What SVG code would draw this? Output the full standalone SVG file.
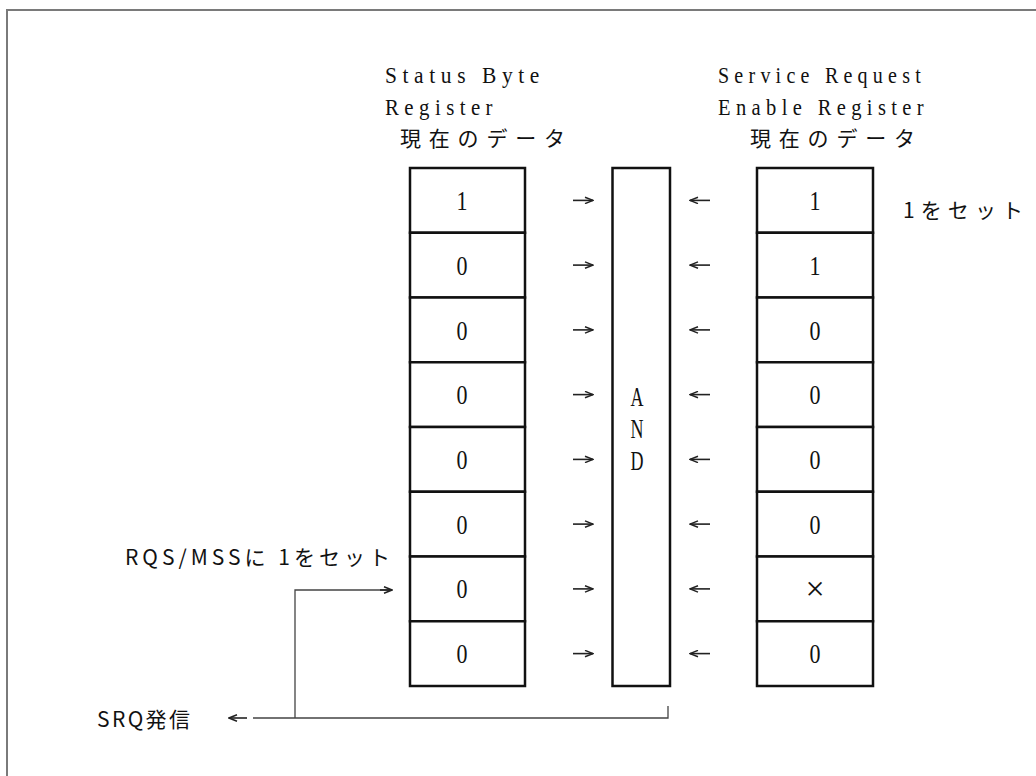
<svg xmlns="http://www.w3.org/2000/svg" width="1036" height="776" viewBox="0 0 1036 776">
<style>
.frame{fill:none;stroke:#7a7a7a;stroke-width:2}
.cell{fill:#fff;stroke:#111;stroke-width:2.5}
.lbl{font-family:"Liberation Serif","Noto Sans CJK JP",serif;font-size:23px;letter-spacing:6px;fill:#111}
.jp{font-family:"Noto Sans CJK JP","Liberation Serif",sans-serif;font-size:21px;fill:#111}
.dig{font-family:"Liberation Serif","Noto Sans CJK JP",serif;font-size:27px;fill:#111;text-anchor:middle}
.x{font-family:"Liberation Serif",serif;font-size:34px;fill:#111;text-anchor:middle}
.and{font-family:"Liberation Serif",serif;font-size:28px;fill:#111;text-anchor:middle}
.ar{stroke:#222;stroke-width:1.6;fill:none}
.wire{stroke:#444;stroke-width:1.3;fill:none}
</style>
<defs>
<marker id="ah" markerUnits="userSpaceOnUse" markerWidth="10" markerHeight="8" refX="9" refY="4" orient="auto">
<path d="M1,0.8 L9,4 L1,7.2" fill="none" stroke="#222" stroke-width="1.5"/>
</marker>
</defs>
<path class="frame" d="M7,776 L7,10 L1036,10"/>

<g id="labels">
<text class="lbl" x="385" y="83" textLength="160" lengthAdjust="spacingAndGlyphs">Status Byte</text>
<text class="lbl" x="385" y="115" textLength="113" lengthAdjust="spacingAndGlyphs">Register</text>
<text class="jp" x="400" y="146" textLength="165" lengthAdjust="spacing">現在のデータ</text>
<text class="lbl" x="718" y="83" textLength="208" lengthAdjust="spacingAndGlyphs">Service Request</text>
<text class="lbl" x="718" y="115" textLength="211" lengthAdjust="spacingAndGlyphs">Enable Register</text>
<text class="jp" x="750" y="146" textLength="165" lengthAdjust="spacing">現在のデータ</text>
<text class="jp" x="903" y="218" textLength="120" lengthAdjust="spacing">1をセット</text>
<text class="jp" x="125" y="565" textLength="265" lengthAdjust="spacing">RQS/MSSに 1をセット</text>
<text class="jp" x="97" y="727" textLength="93" lengthAdjust="spacing">SRQ発信</text>
</g>

<g id="status-byte-register">
<rect class="cell" x="410" y="168" width="115" height="64.75"/>
<rect class="cell" x="410" y="232.75" width="115" height="64.75"/>
<rect class="cell" x="410" y="297.5" width="115" height="64.75"/>
<rect class="cell" x="410" y="362.25" width="115" height="64.75"/>
<rect class="cell" x="410" y="427" width="115" height="64.75"/>
<rect class="cell" x="410" y="491.75" width="115" height="64.75"/>
<rect class="cell" x="410" y="556.5" width="115" height="64.75"/>
<rect class="cell" x="410" y="621.25" width="115" height="64.75"/>
<text class="dig" x="462" y="210" textLength="11" lengthAdjust="spacingAndGlyphs">1</text>
<text class="dig" x="462" y="275" textLength="11" lengthAdjust="spacingAndGlyphs">0</text>
<text class="dig" x="462" y="340" textLength="11" lengthAdjust="spacingAndGlyphs">0</text>
<text class="dig" x="462" y="404" textLength="11" lengthAdjust="spacingAndGlyphs">0</text>
<text class="dig" x="462" y="469" textLength="11" lengthAdjust="spacingAndGlyphs">0</text>
<text class="dig" x="462" y="534" textLength="11" lengthAdjust="spacingAndGlyphs">0</text>
<text class="dig" x="462" y="598" textLength="11" lengthAdjust="spacingAndGlyphs">0</text>
<text class="dig" x="462" y="663" textLength="11" lengthAdjust="spacingAndGlyphs">0</text>
</g>

<g id="and-gate">
<rect class="cell" x="612.5" y="168" width="57.5" height="518"/>
<text class="and" x="637" y="406" textLength="13" lengthAdjust="spacingAndGlyphs">A</text>
<text class="and" x="637" y="438" textLength="13" lengthAdjust="spacingAndGlyphs">N</text>
<text class="and" x="637" y="470" textLength="13" lengthAdjust="spacingAndGlyphs">D</text>
</g>

<g id="service-request-enable-register">
<rect class="cell" x="757" y="168" width="116" height="64.75"/>
<rect class="cell" x="757" y="232.75" width="116" height="64.75"/>
<rect class="cell" x="757" y="297.5" width="116" height="64.75"/>
<rect class="cell" x="757" y="362.25" width="116" height="64.75"/>
<rect class="cell" x="757" y="427" width="116" height="64.75"/>
<rect class="cell" x="757" y="491.75" width="116" height="64.75"/>
<rect class="cell" x="757" y="556.5" width="116" height="64.75"/>
<rect class="cell" x="757" y="621.25" width="116" height="64.75"/>
<text class="dig" x="815" y="210" textLength="11" lengthAdjust="spacingAndGlyphs">1</text>
<text class="dig" x="815" y="275" textLength="11" lengthAdjust="spacingAndGlyphs">1</text>
<text class="dig" x="815" y="340" textLength="11" lengthAdjust="spacingAndGlyphs">0</text>
<text class="dig" x="815" y="404" textLength="11" lengthAdjust="spacingAndGlyphs">0</text>
<text class="dig" x="815" y="469" textLength="11" lengthAdjust="spacingAndGlyphs">0</text>
<text class="dig" x="815" y="534" textLength="11" lengthAdjust="spacingAndGlyphs">0</text>
<text class="x" x="815" y="600">×</text>
<text class="dig" x="815" y="663" textLength="11" lengthAdjust="spacingAndGlyphs">0</text>
</g>

<g id="connectors">
<path class="ar" marker-end="url(#ah)" d="M573,200.4 H593"/>
<path class="ar" marker-end="url(#ah)" d="M573,265.1 H593"/>
<path class="ar" marker-end="url(#ah)" d="M573,329.9 H593"/>
<path class="ar" marker-end="url(#ah)" d="M573,394.6 H593"/>
<path class="ar" marker-end="url(#ah)" d="M573,459.4 H593"/>
<path class="ar" marker-end="url(#ah)" d="M573,524.1 H593"/>
<path class="ar" marker-end="url(#ah)" d="M573,588.9 H593"/>
<path class="ar" marker-end="url(#ah)" d="M573,653.6 H593"/>
<path class="ar" marker-end="url(#ah)" d="M710,200.4 H690"/>
<path class="ar" marker-end="url(#ah)" d="M710,265.1 H690"/>
<path class="ar" marker-end="url(#ah)" d="M710,329.9 H690"/>
<path class="ar" marker-end="url(#ah)" d="M710,394.6 H690"/>
<path class="ar" marker-end="url(#ah)" d="M710,459.4 H690"/>
<path class="ar" marker-end="url(#ah)" d="M710,524.1 H690"/>
<path class="ar" marker-end="url(#ah)" d="M710,588.9 H690"/>
<path class="ar" marker-end="url(#ah)" d="M710,653.6 H690"/>
<path class="wire" d="M668,706 V718 H253"/>
<path class="wire" d="M295,718 V590 H390"/>
<path class="ar" marker-end="url(#ah)" d="M380,590 H392"/>
<path class="ar" marker-end="url(#ah)" d="M247,718 H229"/>
</g>
</svg>
